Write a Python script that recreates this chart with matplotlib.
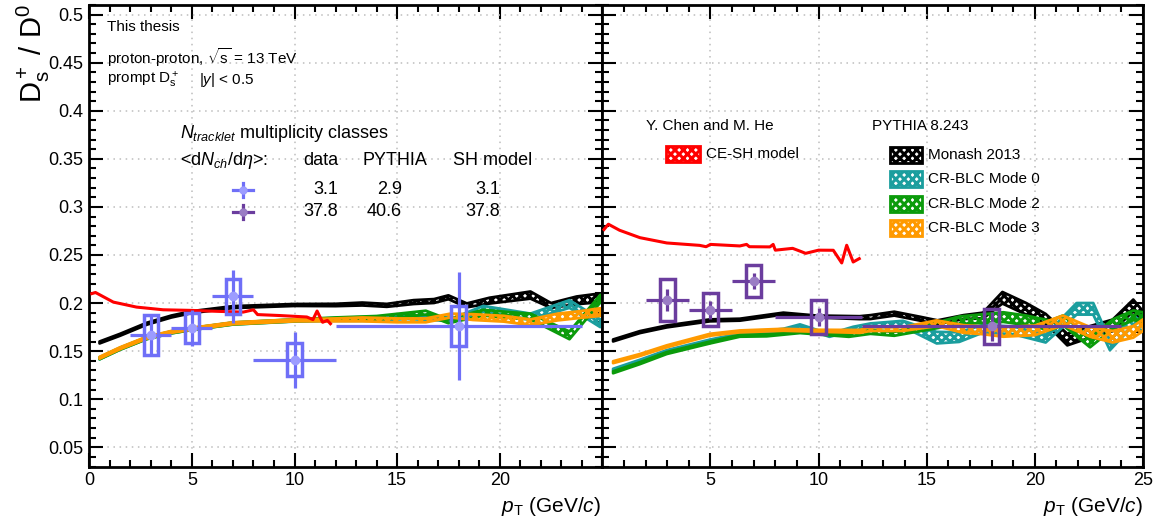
import numpy as np
import matplotlib.pyplot as plt
from matplotlib.patches import Rectangle
from matplotlib.lines import Line2D
from matplotlib.ticker import MultipleLocator, FixedLocator, FixedFormatter

plt.rcParams['font.family'] = ['Liberation Sans', 'DejaVu Sans']
plt.rcParams['mathtext.fontset'] = 'custom'
plt.rcParams['mathtext.rm'] = 'Liberation Sans'
plt.rcParams['mathtext.it'] = 'Liberation Sans:italic'
plt.rcParams['mathtext.bf'] = 'Liberation Sans:bold'
plt.rcParams['hatch.linewidth'] = 2.2

W, H = 1159, 524

# ---- data: Ds+/D0 vs pT ----
pt = np.array([3, 5, 7, 10, 18])
pt_lo = np.array([2, 4, 6, 8, 12])
pt_hi = np.array([4, 6, 8, 12, 24])

low_y = np.array([0.167, 0.174, 0.207, 0.141, 0.176])
low_stat = np.array([0.020, 0.019, 0.0275, 0.029, 0.056])
low_syst = np.array([0.021, 0.016, 0.0185, 0.017, 0.021])

high_y = np.array([0.2028, 0.193, 0.223, 0.1854, 0.1757])
high_stat = np.array([0.0115, 0.0095, 0.008, 0.0092, 0.0153])
high_syst = np.array([0.0218, 0.0171, 0.0168, 0.018, 0.018])

# ---- models, low multiplicity ----
low_monash_x = [0.5, 1.5, 2.8, 4, 5, 7, 10, 12, 13.3, 14.5, 15.8, 16.8, 17.5, 18.4, 19.5, 21.5, 22.5, 23.75, 24.9]
low_monash_y = [0.159, 0.167, 0.1785, 0.186, 0.1906, 0.1958, 0.198, 0.198, 0.199, 0.1976, 0.201, 0.2021, 0.206, 0.1976, 0.2025, 0.2083, 0.1975, 0.2028, 0.2055]
low_monash_w = [0.001, 0.001, 0.001, 0.001, 0.001, 0.001, 0.001, 0.0012, 0.0015, 0.0015, 0.002, 0.002, 0.002, 0.002, 0.003, 0.0037, 0.0025, 0.004, 0.0045]

low_m0_x = [0.5, 1.5, 2.8, 4, 5, 7, 10, 12, 13.5, 15.5, 17, 17.8, 19.2, 20.5, 21.5, 23.4, 24.9]
low_m0_y = [0.1425, 0.1525, 0.1635, 0.1695, 0.173, 0.1787, 0.1818, 0.183, 0.1835, 0.1854, 0.184, 0.183, 0.194, 0.1895, 0.186, 0.199, 0.179]
low_m0_w = [0.001, 0.001, 0.001, 0.001, 0.001, 0.001, 0.001, 0.0015, 0.002, 0.002, 0.002, 0.002, 0.003, 0.003, 0.003, 0.004, 0.004]

low_m2_x = [0.5, 1.5, 2.8, 4, 5, 7, 10, 12, 14, 16.4, 17.5, 19.2, 20.5, 21.5, 23.4, 24.9]
low_m2_y = [0.1425, 0.1525, 0.1635, 0.1695, 0.173, 0.1787, 0.182, 0.1835, 0.1845, 0.19, 0.181, 0.19, 0.1875, 0.186, 0.1664, 0.2045]
low_m2_w = [0.001, 0.001, 0.001, 0.001, 0.001, 0.001, 0.001, 0.0015, 0.002, 0.002, 0.002, 0.003, 0.003, 0.003, 0.004, 0.004]

low_m3_x = [0.5, 1.5, 2.8, 4, 5, 7, 10, 12, 13.3, 15, 16.4, 17.6, 18.7, 20.2, 21.5, 22.8, 23.9, 24.9]
low_m3_y = [0.1431, 0.153, 0.164, 0.170, 0.1733, 0.179, 0.182, 0.1825, 0.183, 0.182, 0.182, 0.187, 0.1854, 0.1837, 0.180, 0.1854, 0.188, 0.1906]
low_m3_w = [0.001, 0.001, 0.001, 0.001, 0.001, 0.001, 0.001, 0.0015, 0.002, 0.002, 0.002, 0.002, 0.003, 0.003, 0.003, 0.0035, 0.0035, 0.004]

low_sh_x = [0.12, 0.3, 1.17, 2.3, 3.6, 4.9, 6.37, 7.5, 8.0, 8.2, 9.3, 10.6, 10.9, 11.1, 11.37, 11.6, 11.75]
low_sh_y = [0.2098, 0.211, 0.201, 0.1958, 0.193, 0.1924, 0.1913, 0.1906, 0.193, 0.188, 0.187, 0.1855, 0.1828, 0.1917, 0.180, 0.182, 0.1785]

# ---- models, high multiplicity ----
high_monash_x = [0.5, 1.74, 2.98, 4.98, 6.36, 8.37, 9.9, 11.9, 12.4, 13.5, 14.7, 15.5, 16.7, 17.6, 18.5, 19.6, 20.5, 21.5, 22.55, 23.6, 24.55, 25]
high_monash_y = [0.1611, 0.1698, 0.1757, 0.182, 0.1827, 0.189, 0.186, 0.1848, 0.1854, 0.189, 0.1837, 0.180, 0.1854, 0.187, 0.2055, 0.194, 0.1837, 0.162, 0.170, 0.1768, 0.1976, 0.1854]
high_monash_w = [0.001, 0.001, 0.001, 0.001, 0.001, 0.001, 0.001, 0.0015, 0.002, 0.002, 0.002, 0.002, 0.002, 0.003, 0.006, 0.006, 0.005, 0.006, 0.006, 0.006, 0.006, 0.006]

high_m0_x = [0.5, 1.74, 2.98, 4.98, 6.36, 8.37, 9.14, 10.5, 11.6, 12.4, 13.9, 15.46, 16.5, 17.6, 19.0, 20.5, 21.93, 22.7, 23.47, 24.55, 25]
high_m0_y = [0.1306, 0.140, 0.150, 0.161, 0.1674, 0.1722, 0.1768, 0.1664, 0.1733, 0.1768, 0.1785, 0.164, 0.1646, 0.1733, 0.1716, 0.163, 0.194, 0.194, 0.156, 0.182, 0.175]
high_m0_w = [0.001, 0.001, 0.001, 0.001, 0.001, 0.001, 0.001, 0.0015, 0.002, 0.002, 0.003, 0.006, 0.005, 0.004, 0.004, 0.004, 0.006, 0.006, 0.005, 0.005, 0.005]

high_m2_x = [0.5, 1.74, 2.98, 4.98, 6.36, 7.6, 9.14, 11.4, 12.4, 13.5, 15.46, 16.5, 18.54, 19.6, 20.7, 21.3, 22.55, 23.6, 24.55, 25]
high_m2_y = [0.128, 0.1375, 0.148, 0.159, 0.166, 0.1664, 0.1698, 0.1664, 0.170, 0.168, 0.1768, 0.182, 0.1854, 0.182, 0.1768, 0.182, 0.159, 0.178, 0.1872, 0.1854]
high_m2_w = [0.001, 0.001, 0.001, 0.001, 0.001, 0.001, 0.001, 0.0015, 0.002, 0.002, 0.003, 0.004, 0.005, 0.005, 0.005, 0.005, 0.005, 0.005, 0.005, 0.005]

high_m3_x = [0.5, 1.74, 2.98, 4.98, 6.36, 8.37, 9.9, 11.9, 12.4, 13.9, 15.46, 16.7, 17.6, 18.54, 20.0, 21.3, 22.55, 23.6, 24.55, 25]
high_m3_y = [0.1385, 0.146, 0.155, 0.167, 0.1705, 0.1722, 0.1712, 0.1705, 0.173, 0.173, 0.179, 0.173, 0.1716, 0.170, 0.1716, 0.182, 0.170, 0.165, 0.170, 0.177]
high_m3_w = [0.001, 0.001, 0.001, 0.001, 0.001, 0.001, 0.001, 0.0015, 0.002, 0.002, 0.003, 0.004, 0.004, 0.005, 0.005, 0.005, 0.005, 0.006, 0.006, 0.006]

high_sh_x = [0.08, 0.28, 0.8, 1.74, 2.98, 4.5, 4.8, 5.0, 6.36, 6.67, 6.8, 7.75, 7.9, 8.0, 8.8, 9.2, 9.4, 10.0, 10.68, 11.07, 11.3, 11.6, 11.88]
high_sh_y = [0.2765, 0.282, 0.2757, 0.268, 0.2625, 0.260, 0.2586, 0.261, 0.2594, 0.261, 0.2586, 0.2584, 0.261, 0.255, 0.2569, 0.2535, 0.2517, 0.255, 0.2549, 0.2417, 0.2601, 0.2427, 0.2462]

mult_data = ['3.1', '37.8']
mult_pythia = ['2.9', '40.6']
mult_sh = ['3.1', '37.8']

C_LOW = '#6f6ff7'
C_LOW_M = '#9c9cff'
C_HIGH = '#6b3d9e'
C_HIGH_M = '#9a7cc4'
C_MONASH = 'black'
C_M0 = '#1b9e9e'
C_M2 = '#0b9b0b'
C_M3 = '#ff9a00'
C_SH = '#ff0000'
HATCH = 'xxxx'

fig = plt.figure(figsize=(W / 100, H / 100), dpi=100)


def fx(x):
    return x / W


def fy(y):
    return 1 - y / H


axL = fig.add_axes([fx(89.3), fy(466.5), 513 / W, 461.5 / H])
axR = fig.add_axes([fx(602.3), fy(466.5), 540.7 / W, 461.5 / H])


def band(ax, x, y, w, c, z):
    x = np.array(x)
    y = np.array(y)
    w = np.array(w)
    ax.fill_between(x, y - w, y + w, facecolor='none', edgecolor=c,
                    hatch=HATCH, linewidth=2.0, zorder=z)


def data(ax, y, stat, syst, c, cm):
    ax.errorbar(pt, y, xerr=[pt - pt_lo, pt_hi - pt], yerr=stat, fmt='o',
                color=c, mfc=cm, mec=cm, ms=6, elinewidth=2.3, capsize=0, zorder=10)
    for xi, yi, si in zip(pt, y, syst):
        ax.add_patch(Rectangle((xi - 0.35, yi - si), 0.7, 2 * si, fill=False,
                               edgecolor=c, linewidth=2.5, zorder=10))


for ax in (axL, axR):
    ax.set_xlim(0, 25)
    ax.set_ylim(0.03, 0.51)
    ax.xaxis.set_major_locator(MultipleLocator(5))
    ax.xaxis.set_minor_locator(MultipleLocator(1))
    ax.yaxis.set_major_locator(MultipleLocator(0.05))
    ax.yaxis.set_minor_locator(MultipleLocator(0.01))
    ax.tick_params(which='both', direction='in', top=True, right=True,
                   width=1.5, labelsize=13, pad=4)
    ax.tick_params(which='major', length=10)
    ax.tick_params(which='minor', length=5)
    ax.grid(True, which='major', color='#bdbdbd', linestyle=(0, (1, 3)), linewidth=1.1)
    ax.set_axisbelow(True)
    for s in ax.spines.values():
        s.set_linewidth(2)

axL.xaxis.set_major_locator(FixedLocator([0, 5, 10, 15, 20, 25]))
axL.xaxis.set_major_formatter(FixedFormatter(['0', '5', '10', '15', '20', '']))
axL.set_yticks([0.05, 0.1, 0.15, 0.2, 0.25, 0.3, 0.35, 0.4, 0.45, 0.5])
axL.set_yticklabels(['0.05', '0.1', '0.15', '0.2', '0.25', '0.3', '0.35', '0.4', '0.45', '0.5'])
axR.xaxis.set_major_locator(FixedLocator([0, 5, 10, 15, 20, 25]))
axR.xaxis.set_major_formatter(FixedFormatter(['', '5', '10', '15', '20', '25']))
axR.tick_params(labelleft=False)

# left panel: low multiplicity
band(axL, low_monash_x, low_monash_y, low_monash_w, C_MONASH, 3)
band(axL, low_m0_x, low_m0_y, low_m0_w, C_M0, 4)
band(axL, low_m2_x, low_m2_y, low_m2_w, C_M2, 5)
band(axL, low_m3_x, low_m3_y, low_m3_w, C_M3, 6)
axL.plot(low_sh_x, low_sh_y, color=C_SH, lw=2.2, zorder=7)
data(axL, low_y, low_stat, low_syst, C_LOW, C_LOW_M)

# right panel: high multiplicity
band(axR, high_monash_x, high_monash_y, high_monash_w, C_MONASH, 3)
band(axR, high_m0_x, high_m0_y, high_m0_w, C_M0, 4)
band(axR, high_m2_x, high_m2_y, high_m2_w, C_M2, 5)
band(axR, high_m3_x, high_m3_y, high_m3_w, C_M3, 6)
axR.plot(high_sh_x, high_sh_y, color=C_SH, lw=2.2, zorder=7)
data(axR, high_y, high_stat, high_syst, C_HIGH, C_HIGH_M)

# axis titles
fig.text(fx(33), fy(4), r'$\mathrm{D_s^+}$ / $\mathrm{D^0}$', rotation=90,
         ha='center', va='top', fontsize=21)
fig.text(fx(601), fy(506), r'$p_{\mathrm{T}}$ (GeV/$c$)', ha='right', va='center', fontsize=15)
fig.text(fx(1143), fy(506), r'$p_{\mathrm{T}}$ (GeV/$c$)', ha='right', va='center', fontsize=15)

# labels left panel
fig.text(fx(107), fy(27), 'This thesis', ha='left', va='center', fontsize=11)
fig.text(fx(107), fy(58), r'proton-proton, $\sqrt{\mathrm{s}}$ = 13 TeV', ha='left', va='center', fontsize=11)
fig.text(fx(107), fy(80), r'prompt $\mathrm{D_s^+}$', ha='left', va='center', fontsize=11)
fig.text(fx(199), fy(80), r'|$y$| < 0.5', ha='left', va='center', fontsize=11)

fig.text(fx(180), fy(133), r'$N_{tracklet}$ multiplicity classes', ha='left', va='center', fontsize=13)
fig.text(fx(180), fy(160), r'<d$N_{ch}$/d$\eta$>:', ha='left', va='center', fontsize=13)
fig.text(fx(303), fy(160), 'data', ha='left', va='center', fontsize=13)
fig.text(fx(362), fy(160), 'PYTHIA', ha='left', va='center', fontsize=13)
fig.text(fx(453), fy(160), 'SH model', ha='left', va='center', fontsize=13)

for i, (c, cm, row_y) in enumerate([(C_LOW, C_LOW_M, 190), (C_HIGH, C_HIGH_M, 212)]):
    fig.add_artist(Line2D([fx(233), fx(253)], [fy(row_y), fy(row_y)], color=c, lw=2.3))
    fig.add_artist(Line2D([fx(243), fx(243)], [fy(row_y - 7), fy(row_y + 7)], color=c, lw=2.3))
    fig.add_artist(Line2D([fx(243)], [fy(row_y)], marker='o', ms=5, color=cm))
    fig.text(fx(338), fy(row_y), mult_data[i], ha='right', va='center', fontsize=13)
    fig.text(fx(402), fy(row_y), mult_pythia[i], ha='right', va='center', fontsize=13)
    fig.text(fx(500), fy(row_y), mult_sh[i], ha='right', va='center', fontsize=13)

# legends right panel
fig.text(fx(646), fy(126), 'Y. Chen and M. He', ha='left', va='center', fontsize=11)
fig.text(fx(872), fy(126), 'PYTHIA 8.243', ha='left', va='center', fontsize=11)


def legbox(x0, x1, yc, c, label):
    fig.add_artist(Rectangle((fx(x0), fy(yc + 8)), (x1 - x0) / W, 16 / H,
                             transform=fig.transFigure, facecolor='white',
                             edgecolor=c, hatch=HATCH, linewidth=2))
    fig.text(fx(x1 + 6), fy(yc), label, ha='left', va='center', fontsize=11)


legbox(666, 700, 154, C_SH, 'CE-SH model')
legbox(890, 922, 155, C_MONASH, 'Monash 2013')
legbox(890, 922, 179, C_M0, 'CR-BLC Mode 0')
legbox(890, 922, 204, C_M2, 'CR-BLC Mode 2')
legbox(890, 922, 228, C_M3, 'CR-BLC Mode 3')

fig.savefig('out.png', dpi=100)
